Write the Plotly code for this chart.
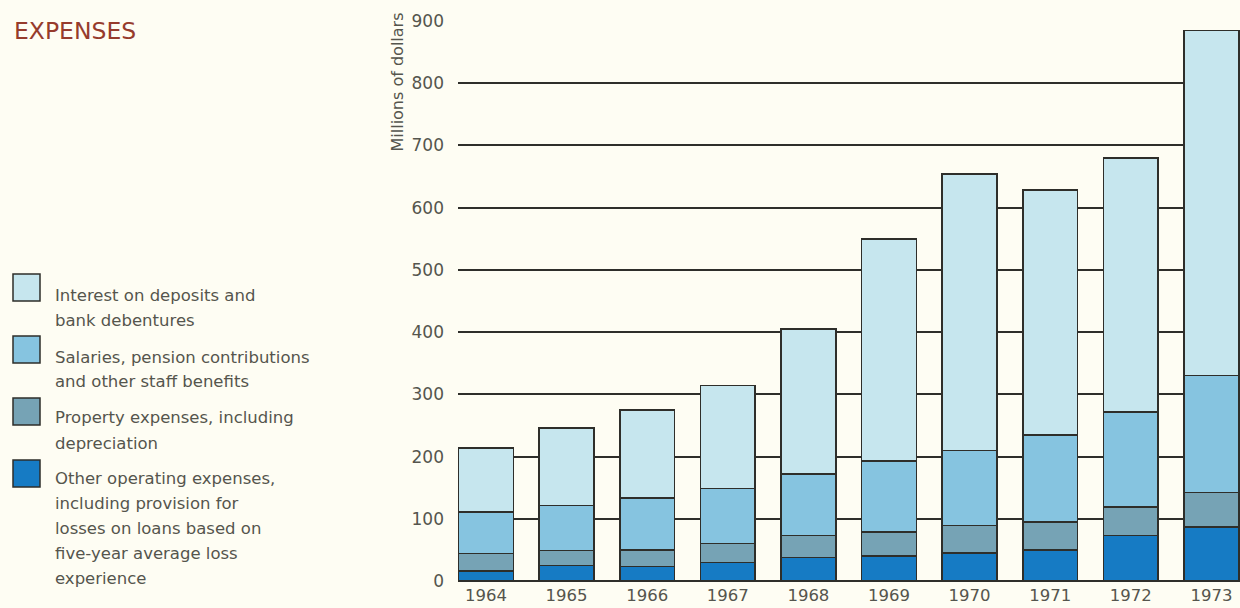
import plotly.graph_objects as go

years = ["1964", "1965", "1966", "1967", "1968", "1969", "1970", "1971", "1972", "1973"]
other_operating = [16, 25, 23, 30, 38, 40, 45, 50, 73, 87]
property_exp = [28, 24, 27, 30, 35, 39, 44, 45, 46, 55]
salaries = [67, 72, 83, 89, 99, 114, 121, 140, 153, 188]
interest = [103, 125, 142, 165, 233, 357, 444, 393, 408, 555]

series_names = [
    "Other operating expenses",
    "Property expenses",
    "Salaries",
    "Interest on deposits and bank debentures",
]
legend_lines = [
    ["Interest on deposits and", "bank debentures"],
    ["Salaries, pension contributions", "and other staff benefits"],
    ["Property expenses, including", "depreciation"],
    ["Other operating expenses,", "including provision for",
     "losses on loans based on", "five-year average loss", "experience"],
]
y_ticks = [0, 100, 200, 300, 400, 500, 600, 700, 800, 900]

C_OTHER = "#167BC4"
C_PROP = "#76A3B5"
C_SAL = "#86C4E0"
C_INT = "#C6E6EE"
OUTLINE = "#2E2E2A"
BG = "#FEFDF3"
TEXT = "#55554D"
FONT = "DejaVu Sans, Verdana, sans-serif"

W, H = 1240, 608
X0, X1 = 458, 1240   # plot area in pixels
Y0, Y1 = 21, 581

def px(x):
    return (x - X0) / (X1 - X0)

def py(y):
    return (Y1 - y) / (Y1 - Y0)

fig = go.Figure()
for vals, name, col in [
    (other_operating, series_names[0], C_OTHER),
    (property_exp, series_names[1], C_PROP),
    (salaries, series_names[2], C_SAL),
    (interest, series_names[3], C_INT),
]:
    fig.add_trace(go.Bar(
        x=years, y=vals, name=name,
        marker=dict(color=col, line=dict(color=OUTLINE, width=1.5)),
        showlegend=False,
    ))

shapes = []
annotations = []

# Title
annotations.append(dict(
    text="EXPENSES", xref="paper", yref="paper", x=px(12), y=py(31),
    xanchor="left", yanchor="middle", showarrow=False,
    font=dict(family=FONT, size=23.5, color="#963B2C"),
))

# Y axis title
annotations.append(dict(
    text="Millions of dollars", xref="paper", yref="paper", x=px(397), y=py(11),
    xanchor="center", yanchor="top", textangle=-90, showarrow=False,
    font=dict(family=FONT, size=16, color=TEXT),
))

# Manual legend
box_tops = [274, 336, 398, 460]
line_starts = [295, 357, 418, 478]
legend_colors = [C_INT, C_SAL, C_PROP, C_OTHER]
for top, col, lines, ly in zip(box_tops, legend_colors, legend_lines, line_starts):
    shapes.append(dict(
        type="rect", xref="paper", yref="paper",
        x0=px(13), x1=px(40), y0=py(top + 27), y1=py(top),
        fillcolor=col, line=dict(color=OUTLINE, width=1.5),
    ))
    for i, ln in enumerate(lines):
        annotations.append(dict(
            text=ln, xref="paper", yref="paper", x=px(53), y=py(ly + 25.0 * i),
            xanchor="left", yanchor="middle", showarrow=False,
            font=dict(family=FONT, size=16.5, color=TEXT),
        ))

fig.update_layout(
    width=W, height=H,
    barmode="stack", bargap=0.32,
    paper_bgcolor=BG, plot_bgcolor=BG,
    margin=dict(l=X0, r=W - X1, t=Y0, b=H - Y1, pad=0),
    shapes=shapes, annotations=annotations,
    xaxis=dict(
        type="category", range=[-0.347, 9.355],
        showgrid=False, zeroline=False, showline=False, ticks="",
        tickfont=dict(family=FONT, size=16.5, color=TEXT),
        automargin=False, ticklabelstandoff=2,
    ),
    yaxis=dict(
        range=[0, 900], tickvals=y_ticks, showgrid=True,
        gridcolor="#2E2E2A", gridwidth=1.5,
        zeroline=True, zerolinecolor="#2E2E2A", zerolinewidth=1.5,
        showline=False, ticks="",
        tickfont=dict(family=FONT, size=17, color=TEXT),
        automargin=False, ticklabelstandoff=13,
    ),
)

fig.write_html("out.html")
